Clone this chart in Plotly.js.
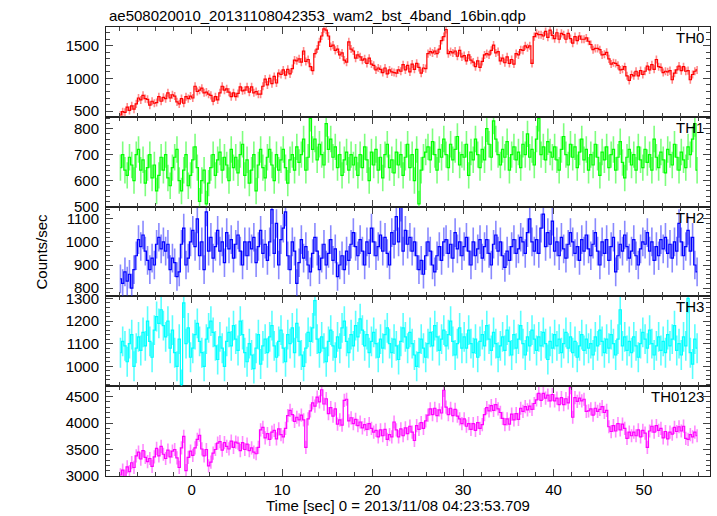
<!DOCTYPE html>
<html>
<head>
<meta charset="utf-8">
<script src="https://cdn.plot.ly/plotly-3.0.1.min.js"></script>
<style>html,body{margin:0;padding:0;background:#fff;}#chart{width:717px;height:516px;}</style>
</head>
<body>
<div id="chart"></div>
<script>
// Time bins: start centre and bin width (sec)
const binStart = -7.875;
const binWidth = 0.25;

const panelNames = ["TH0", "TH1", "TH2", "TH3", "TH0123"];

const th0 = [
440,490,480,560, 510,580,530,610, 700,670,740,690, 680,590,650,620,
630,720,650,710, 690,780,700,750, 730,640,610,690, 620,720,690,730,
700,880,800,820, 850,780,790,760, 740,650,720,670, 780,880,820,840,
790,720,780,720, 770,870,810,820, 870,790,870,780, 800,760,760,880,
990,900,1000,920, 1030,930,1080,1060, 1130,1050,1140,1070, 1150,1280,1270,1300,
1250,1420,1260,1290, 1180,1120,1380,1450, 1560,1650,1760,1740, 1650,1490,1510,1430,
1450,1360,1390,1280, 1250,1560,1450,1420, 1310,1360,1330,1280, 1300,1230,1310,1220,
1200,1130,1160,1140, 1090,1160,1070,1130, 1100,1090,1080,1130, 1110,1210,1130,1200,
1100,1220,1140,1230, 1170,1080,1160,1150, 1380,1410,1390,1420, 1380,1450,1580,1640,
1750,1380,1410,1390, 1420,1340,1430,1330, 1350,1270,1360,1280, 1250,1180,1270,1170,
1260,1360,1380,1360, 1430,1510,1390,1410, 1270,1310,1240,1330, 1230,1290,1220,1380,
1360,1440,1430,1500, 1470,1500,1230,1640, 1690,1670,1670,1650, 1720,1630,1740,1660,
1610,1700,1600,1690, 1670,1600,1690,1610, 1540,1640,1580,1650, 1600,1600,1620,1570,
1520,1440,1460,1460, 1440,1360,1370,1400, 1300,1220,1240,1230, 1200,1130,1140,1180,
1040,970,1060,1040, 1110,1040,1120,1060, 1110,1190,1130,1210, 1140,1290,1180,1170,
1090,1110,1100,1120, 980,1080,1130,1190, 1120,1180,1110,1120, 980,1060,1110,1130
];

const th1 = [
650,700,640,620,690,660,600,700, 720,640,680,590,650,700,610,660,
560,620,690,640,700,610,580,650, 690,720,600,560,640,700,580,620,
680,730,650,520,600,640,510,590, 650,700,620,680,710,640,690,660,
600,720,650,690,630,700,740,620, 680,590,640,700,560,660,720,650,
610,690,720,660,600,700,640,680, 720,650,590,680,700,640,730,670,
700,760,640,690,840,720,760,680, 740,700,660,820,720,760,690,730,
650,700,620,680,710,640,700,660, 690,620,700,650,730,680,600,710,
660,720,640,690,610,700,740,650, 680,630,710,660,700,620,690,740,
650,700,600,720,510,640,690,710, 730,680,750,700,640,720,690,760,
700,650,740,680,720,770,660,700, 690,740,620,710,680,760,700,650,
720,680,800,740,690,830,760,700, 660,720,690,750,640,700,730,680,
710,650,740,700,780,690,720,660, 760,840,700,730,680,750,710,690,
730,680,640,720,770,700,660,740, 690,730,650,710,760,680,720,640,
700,660,740,690,620,710,680,730, 650,700,720,640,690,750,670,610,
690,720,660,700,640,730,680,650, 720,670,700,640,760,690,650,710,
680,630,720,700,660,740,690,640, 710,680,650,730,700,760,820,640
];

const th2 = [
840,820,870,830,860,800,880,940, 1010,980,1030,960,920,880,930,900,
990,1020,970,1000,960,990,880,930, 910,850,870,990,1060,900,930,1000,
1050,980,1100,940,1000,880,1130,960, 1020,930,980,1050,960,1000,910,1040,
970,1010,930,990,1030,960,900,1000, 940,1000,970,1020,910,980,1050,950,
990,920,1000,1140,950,1080,900,1010, 1060,1130,940,880,1000,960,820,910,
1010,930,980,900,870,950,1020,960, 880,930,990,900,950,1010,920,970,
850,900,940,880,960,920,990,1040, 980,940,1010,960,900,1000,950,1060,
1000,940,980,1030,960,1020,950,900, 1040,990,1110,1000,1150,960,1050,990,
1020,960,1000,940,880,920,860,940, 1000,960,900,870,940,980,920,1000,
1010,950,990,930,1040,970,1000,940, 980,1020,960,900,1000,940,970,1010,
930,980,1010,950,900,990,1030,960, 1000,940,890,960,920,980,1010,950,
970,1020,1000,950,1040,1100,1000,960, 1010,950,1060,1120,980,1040,990,1090,
960,1000,940,1020,970,930,990,1040, 1000,950,980,920,1010,960,1030,970,
940,990,1040,960,900,1000,950,1010, 920,980,1020,870,940,990,960,1030,
980,930,960,1010,940,900,970,1000, 990,1040,960,1000,920,980,940,1010,
970,1020,950,990,930,1000,960,1080, 1000,940,980,1050,960,1020,900,870
];

const th3 = [
1060,1110,1090,1020,1100,1140,1000,1080, 1130,1070,1150,1090,1200,1110,1040,1160,
1220,1190,1250,1180,1130,1200,1080,1160, 1060,1000,1120,920,1280,1100,1170,1040,
1080,1140,1190,1110,1060,1000,1120,1170, 1200,1150,1090,1030,1130,1080,1000,1110,
1150,1090,1180,1120,1070,1200,1140,1060, 1020,1100,1050,990,1080,1140,1010,1090,
1120,1060,1130,1180,1090,1040,1110,1160, 1080,1020,1140,1100,1170,1060,1190,1110,
1050,1000,1080,1150,1110,1170,1290,1120, 1060,1130,1080,1020,1110,1160,1090,1040,
1130,1080,1170,1200,1110,1060,1140,1090, 1180,1130,1210,1160,1090,1140,1060,1110,
1150,1100,1040,1120,1080,1140,1170,1100, 1060,1120,1090,1030,1110,1170,1130,1080,
1150,1100,1050,1000,1060,1120,1080,1040, 1100,1150,1090,1180,1130,1070,1120,1160,
1090,1140,1200,1110,1050,1100,1170,1080, 1130,1080,1160,1100,1060,1120,1040,1110,
1140,1090,1180,1120,1070,1150,1100,1040, 1090,1130,1070,1160,1110,1050,1140,1080,
1120,1180,1100,1050,1130,1090,1160,1120, 1070,1130,1090,1150,1100,1030,1110,1080,
1140,1090,1120,1060,1100,1150,1080,1130, 1060,1110,1040,1090,1140,1070,1120,1080,
1100,1050,1130,1090,1160,1110,1060,1120, 1080,1140,1100,1050,1120,1250,1090,1130,
1070,1110,1060,1130,1090,1040,1100,1150, 1120,1080,1160,1100,1050,1090,1130,1070,
1110,1060,1140,1090,1120,1180,1070,1100, 1050,1130,1090,1300,1060,1010,1120,1080
];

const th0123 = [
3020,3110,2990,3170, 3080,3250,3160,3380, 3450,3320,3480,3350, 3270,3330,3180,3360,
3520,3380,3560,3410, 3330,3490,3360,3470, 3500,3340,3160,3530, 3750,3100,3350,3470,
3390,3530,3690,3770, 3510,3380,3500,3190, 3260,3430,3500,3620, 3650,3490,3630,3560,
3510,3660,3540,3640, 3620,3480,3630,3500, 3600,3480,3530,3450, 3420,3540,3870,3920,
3720,3800,3690,3830, 3860,3700,3890,3780, 3740,3900,4140,4240, 4160,4030,4110,4060,
4150,4060,3540,4080, 4230,4380,4320,4490, 4400,4630,4360,4460, 4180,4290,4130,4270,
3980,4060,3960,4430, 4450,4040,4100,3990, 4070,3950,4020,3910, 3970,3880,3990,3900,
3830,3860,3740,3870, 3760,3880,3690,3780, 3740,4020,3870,3740, 3890,3760,3910,3800,
3940,3830,3670,3950, 3880,4010,3900,4040, 4150,4270,4160,4280, 4140,4250,4190,4620,
4300,4160,4280,4140, 4260,4130,4080,3990, 4080,3940,3990,3880, 3990,3860,4010,3900,
3970,4160,4290,4230, 4330,4240,4350,4270, 4200,4090,3970,4080, 3980,4170,4060,4180,
4070,4280,4220,4310, 4250,4320,4260,4370, 4440,4560,4430,4560, 4470,4530,4420,4540,
4420,4470,4350,4480, 4350,4460,4380,4670, 4110,4480,4410,4470, 4420,4450,4220,4230,
4270,4150,4280,4220, 4260,4310,4200,4240, 3930,3840,3950,3850, 3990,3870,3980,3900,
3710,3830,3760,3830, 3760,3870,3740,3860, 3810,3540,3850,3940, 3830,3950,3860,3900,
3720,3840,3700,3830, 3790,3920,3840,3930, 3850,3940,3710,3690, 3780,3740,3830,3760
];

const seriesValues = [th0, th1, th2, th3, th0123];
const errSize = [62, 51, 62, 66, 125];
const mainColors = ["#ff0000", "#00ff00", "#0000ff", "#00ffff", "#ff00ff"];
const errColors = ["rgba(255,40,40,0.55)", "rgba(40,255,40,0.6)", "rgba(40,40,255,0.55)", "rgba(0,255,255,0.65)", "rgba(255,40,255,0.55)"];
const yRanges = [[412, 1788], [499.5, 846], [764, 1153], [912, 1309], [2999, 4697]];
const yDtick = [500, 100, 100, 100, 500];
const yMinor = [100, 20, 20, 20, 100];

// panel i (0 = top) uses axis index (5 - i): bottom panel is x/y
const FONT = "Liberation Sans, Arial, Helvetica, sans-serif";
const traces = [];
const layout = {
  width: 717, height: 516,
  margin: {l: 106, r: 7, t: 27, b: 40, pad: 0},
  paper_bgcolor: "#ffffff", plot_bgcolor: "#ffffff",
  showlegend: false,
  font: {family: FONT, size: 15, color: "#000"},
  annotations: []
};

for (let i = 0; i < 5; i++) {
  const k = 5 - i;
  const sx = k === 1 ? "" : String(k);
  traces.push({
    type: "scatter", mode: "lines",
    x0: binStart, dx: binWidth,
    y: seriesValues[i],
    xaxis: "x" + sx, yaxis: "y" + sx,
    line: {shape: "hvh", width: 1.2, color: mainColors[i]},
    error_y: {type: "constant", value: errSize[i], width: 0, thickness: 1.6, color: errColors[i]},
    hoverinfo: "skip"
  });
  const xa = {
    range: [-9.47, 57.3], tick0: 0, dtick: 10,
    ticks: "inside", ticklen: 7, tickwidth: 1, tickcolor: "#444",
    minor: {dtick: 2, ticks: "inside", ticklen: 4, tickwidth: 1, tickcolor: "#444"},
    showline: true, linecolor: "#222", linewidth: 1, mirror: "ticks",
    showgrid: false, zeroline: false,
    anchor: "y" + sx,
    showticklabels: k === 1,
    tickfont: {family: FONT, size: 15, color: "#000"}
  };
  if (k !== 1) xa.matches = "x";
  const ya = {
    domain: [(k - 1) * 0.2, k * 0.2],
    range: yRanges[i], dtick: yDtick[i], tick0: 0,
    ticks: "inside", ticklen: 7, tickwidth: 1, tickcolor: "#444",
    minor: {dtick: yMinor[i], ticks: "inside", ticklen: 4, tickwidth: 1, tickcolor: "#444"},
    showline: true, linecolor: "#222", linewidth: 1, mirror: "ticks",
    showgrid: false, zeroline: false,
    anchor: "x" + sx,
    tickfont: {family: FONT, size: 15, color: "#000"},
    ticklabelstandoff: 3
  };
  layout["xaxis" + sx] = xa;
  layout["yaxis" + sx] = ya;
  layout.annotations.push({
    text: panelNames[i], showarrow: false,
    xref: "paper", x: 0.9934, xanchor: "right",
    yref: "y" + sx + " domain", y: 1, yanchor: "top", yshift: 0,
    font: {family: FONT, size: 15, color: "#000"}
  });
}

layout.annotations.push({
  text: "ae508020010_20131108042353_wam2_bst_4band_16bin.qdp", showarrow: false,
  xref: "paper", x: 0.0017, xanchor: "left",
  yref: "paper", y: 1.0256, yanchor: "middle",
  font: {family: FONT, size: 15, color: "#000"}
});
layout.annotations.push({
  text: "Time [sec] 0 = 2013/11/08 04:23:53.709", showarrow: false,
  xref: "paper", x: 0.4834, xanchor: "center",
  yref: "paper", y: -0.0646, yanchor: "middle",
  font: {family: FONT, size: 15, color: "#000"}
});
layout.annotations.push({
  text: "Counts/sec", showarrow: false, textangle: -90,
  xref: "paper", x: -0.106, xanchor: "center",
  yref: "paper", y: 0.5, yanchor: "middle",
  font: {family: FONT, size: 15, color: "#000"}
});

Plotly.newPlot("chart", traces, layout, {staticPlot: true, displayModeBar: false});
</script>
</body>
</html>
